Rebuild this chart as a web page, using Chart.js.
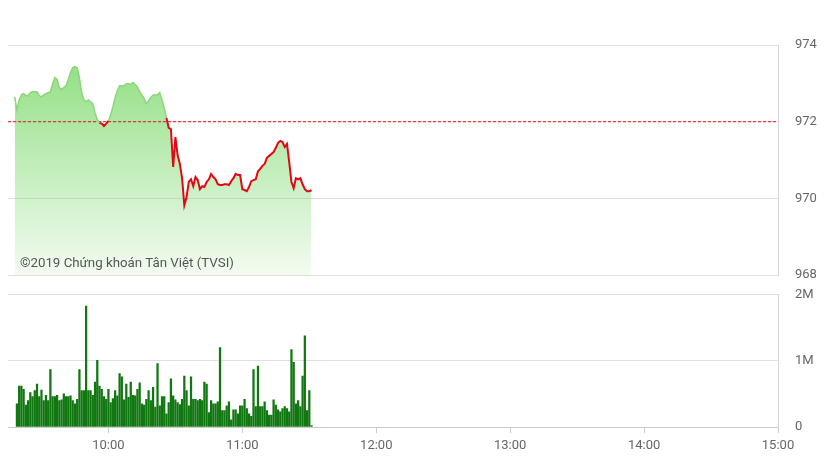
<!DOCTYPE html>
<html lang="vi">
<head>
    <meta charset="UTF-8">
    <title>Diễn biến chỉ số trong phiên</title>
    <style>
        body {
            margin: 0;
            padding: 0;
            background: #fff;
            font-family: Roboto, Arial, sans-serif;
        }
        .wrap {
            position: relative;
            width: 837px;
            height: 470px;
        }
        #priceChart { position: absolute; left: 0; top: 0; }
        #volChart { position: absolute; left: 0; top: 270px; }
        .copy {
            position: absolute;
            left: 20px;
            top: 255px;
            font-size: 13.3px;
            color: #555;
        }
    </style>
    <script src="https://cdn.jsdelivr.net/npm/chart.js"></script>
</head>
<body>
    <div class="wrap">
        <canvas id="priceChart" width="837" height="300"></canvas>
        <canvas id="volChart" width="837" height="200"></canvas>
        <div class="copy">©2019 Chứng khoán Tân Việt (TVSI)</div>
    </div>

    <script>
        // session axis
        const timeMin = '9:15';
        const timeMax = '15:00';
        const timeTicks = ['10:00', '11:00', '12:00', '13:00', '14:00', '15:00'];

        // index level, one value per minute from priceStart
        const priceStart = '9:18';
        const prices = [
            972.65, 972.31, 972.57, 972.70, 972.73, 972.68, 972.68, 972.76, 972.78, 972.78,
            972.78, 972.68, 972.65, 972.70, 972.73, 972.76, 972.78, 972.99, 973.15, 973.10,
            972.89, 972.84, 972.89, 972.94, 973.10, 973.28, 973.41, 973.44, 973.41, 973.15,
            972.76, 972.57, 972.52, 972.57, 972.52, 972.47, 972.23, 972.05, 971.97, 971.95,
            971.89, 971.95, 972.02, 972.18, 972.39, 972.63, 972.81, 972.94, 972.94, 972.94,
            972.99, 972.99, 972.97, 973.02, 972.97, 972.91, 972.78, 972.70, 972.60, 972.47,
            972.55, 972.63, 972.70, 972.70, 972.70, 972.76, 972.57, 972.36, 972.10, 971.84,
            971.81, 970.82, 971.60, 971.13, 970.90, 970.53, 969.82, 970.03, 970.43, 970.50,
            970.32, 970.56, 970.48, 970.24, 970.32, 970.30, 970.43, 970.50, 970.64, 970.56,
            970.50, 970.37, 970.35, 970.35, 970.37, 970.37, 970.35, 970.45, 970.53, 970.64,
            970.61, 970.61, 970.24, 970.22, 970.19, 970.30, 970.45, 970.48, 970.50, 970.71,
            970.77, 970.85, 970.90, 971.06, 971.11, 971.16, 971.21, 971.32, 971.45, 971.50,
            971.47, 971.34, 971.42, 970.95, 970.43, 970.27, 970.53, 970.50, 970.53, 970.37,
            970.24, 970.19, 970.19, 970.22
        ];
        const refPrice = 972;   // previous close
        const priceTicks = [968, 970, 972, 974];

        // matched volume per minute (millions) from volStart
        const volStart = '9:19';
        const volumes = [
            0.35, 0.62, 0.62, 0.57, 0.33, 0.40, 0.52, 0.46, 0.55, 0.65,
            0.46, 0.56, 0.40, 0.48, 0.40, 0.87, 0.46, 0.46, 0.48, 0.40,
            0.41, 0.50, 0.46, 0.46, 0.47, 0.40, 0.35, 0.42, 0.87, 0.55,
            0.55, 1.83, 0.55, 0.55, 0.48, 0.68, 1.01, 0.62, 0.57, 0.46,
            0.42, 0.57, 0.37, 0.43, 0.55, 0.47, 0.81, 0.76, 0.41, 0.65,
            0.45, 0.68, 0.48, 0.47, 0.57, 0.67, 0.35, 0.33, 0.42, 0.55,
            0.40, 0.60, 0.30, 0.96, 0.32, 0.46, 0.46, 0.20, 0.37,
            0.73, 0.47, 0.41, 0.37, 0.34, 0.42, 0.77, 0.55, 0.32, 0.76,
            0.42, 0.42, 0.40, 0.42, 0.40, 0.68, 0.65, 0.22, 0.40, 0.35,
            0.35, 0.38, 1.20, 0.25, 0.25, 0.32, 0.38, 0.11, 0.26, 0.26,
            0.20, 0.32, 0.32, 0.42, 0.28, 0.20, 0.16, 0.87, 0.31, 0.92,
            0.31, 0.31, 0.38, 0.25, 0.18, 0.18, 0.41, 0.33, 0.26, 0.23,
            0.28, 0.31, 0.28, 0.23, 1.17, 0.98, 0.35, 0.40, 0.31, 0.77,
            1.38, 0.25, 0.55, 0.02
        ];
        const volTicks = [0, 1, 2];
        const volTickLabels = ['0', '1M', '2M'];

        function toMin(s) {
            const [h, m] = s.split(':').map(Number);
            return h * 60 + m;
        }

        const tickFont = { family: 'Roboto', size: 13 };
        const tickColor = '#666';
        const gridColor = '#e0e0e0';

        const pricePoints = prices.map((v, i) => ({ x: toMin(priceStart) + i, y: v }));
        const volPoints = volumes.map((v, i) => ({ x: toMin(volStart) + i, y: v }));

        const fixWidth = scale => { scale.width = 59; };
        const belowRef = ctx => (ctx.p0.parsed.y + ctx.p1.parsed.y) / 2 < refPrice;

        // price chart
        new Chart(document.getElementById('priceChart'), {
            type: 'line',
            data: {
                datasets: [{
                    // the line, red under the reference level
                    data: pricePoints,
                    pointRadius: 0,
                    tension: 0,
                    fill: false,
                    segment: {
                        borderColor: ctx => belowRef(ctx) ? '#e30613' : '#8cd67b',
                        borderWidth: ctx => belowRef(ctx) ? 2 : 1.5
                    }
                }, {
                    data: [{ x: toMin(timeMin), y: refPrice }, { x: toMin(timeMax), y: refPrice }],
                    borderColor: '#f01010',
                    borderWidth: 1,
                    borderDash: [3, 2],
                    pointRadius: 0,
                    fill: false
                }, {
                    // area under the line
                    data: pricePoints,
                    borderColor: 'transparent',
                    pointRadius: 0,
                    tension: 0,
                    fill: 'start',
                    backgroundColor: function(ctx) {
                        const area = ctx.chart.chartArea;
                        if (!area) return 'rgba(100,210,80,0.4)';
                        const g = ctx.chart.ctx.createLinearGradient(0, area.top, 0, area.bottom);
                        g.addColorStop(0, 'rgba(100,210,80,0.75)');
                        g.addColorStop(1, 'rgba(100,210,80,0.08)');
                        return g;
                    }
                }]
            },
            options: {
                responsive: false,
                animation: false,
                layout: { padding: { left: 8, top: 45, bottom: 10, right: 0 } },
                scales: {
                    x: {
                        type: 'linear',
                        display: false,
                        min: toMin(timeMin),
                        max: toMin(timeMax)
                    },
                    y: {
                        position: 'right',
                        min: priceTicks[0],
                        max: priceTicks[priceTicks.length - 1],
                        afterBuildTicks: scale => { scale.ticks = priceTicks.map(v => ({ value: v })); },
                        afterFit: fixWidth,
                        grid: { color: gridColor, drawTicks: false },
                        border: { display: true, color: '#d8d8d8' },
                        ticks: { padding: 17, color: tickColor, font: tickFont }
                    }
                },
                plugins: {
                    legend: { display: false },
                    tooltip: { enabled: false }
                }
            }
        });

        // volume chart
        new Chart(document.getElementById('volChart'), {
            type: 'bar',
            data: {
                datasets: [{
                    data: volPoints,
                    backgroundColor: '#117711',
                    barThickness: 1.6
                }]
            },
            options: {
                responsive: false,
                animation: false,
                layout: { padding: { left: 8, top: 3, bottom: 0, right: 0 } },
                scales: {
                    x: {
                        type: 'linear',
                        offset: false,
                        min: toMin(timeMin),
                        max: toMin(timeMax),
                        afterBuildTicks: scale => { scale.ticks = timeTicks.map(t => ({ value: toMin(t) })); },
                        afterFit: scale => { scale.height = 43; },
                        grid: { offset: false, drawOnChartArea: false, drawTicks: true, tickLength: 6, color: '#cccccc' },
                        border: { display: true, color: '#cccccc' },
                        ticks: {
                            padding: 5,
                            maxRotation: 0,
                            color: tickColor,
                            font: tickFont,
                            callback: v => {
                                const h = Math.floor(v / 60), m = v % 60;
                                return h + ':' + String(m).padStart(2, '0');
                            }
                        }
                    },
                    y: {
                        position: 'right',
                        min: volTicks[0],
                        max: volTicks[volTicks.length - 1],
                        afterBuildTicks: scale => { scale.ticks = volTicks.map(v => ({ value: v })); },
                        afterFit: fixWidth,
                        grid: { color: gridColor, drawTicks: false },
                        border: { display: true, color: '#d8d8d8' },
                        ticks: {
                            padding: 17,
                            color: tickColor,
                            font: tickFont,
                            callback: v => volTickLabels[volTicks.indexOf(v)]
                        }
                    }
                },
                plugins: {
                    legend: { display: false },
                    tooltip: { enabled: false }
                }
            }
        });
    </script>
</body>
</html>
